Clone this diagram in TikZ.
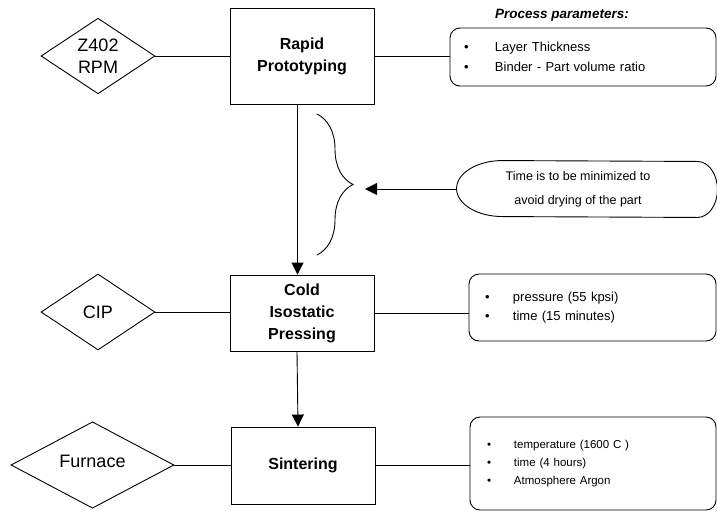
\documentclass[tikz,border=0pt]{standalone}
\usepackage{fontspec}
\setmainfont{Liberation Sans}
\usetikzlibrary{shapes.geometric,arrows.meta,decorations.pathreplacing}
\newcommand{\bul}[1]{\makebox[#1][l]{\textbullet}}

\begin{document}
\begin{tikzpicture}[x=1pt,y=-1pt,line width=0.9pt,
      proc/.style={draw,rectangle,minimum width=144pt,align=center,
        font=\bfseries\fontsize{16}{22}\selectfont},
      tool/.style={draw,diamond,inner sep=0pt,align=center,
        font=\fontsize{18}{22}\selectfont},
      params/.style={draw,rounded corners=10pt,align=left,inner ysep=0pt},
      flow/.style={-{Triangle[length=12pt,width=12pt]}}]
    \useasboundingbox (0,0) rectangle (717,512);
    % the three process steps, top to bottom
    \node[proc,minimum height=96pt] (rp) at (302,56) {Rapid\\Prototyping};
    \node[proc,minimum height=76pt] (cip) at (302,313) {Cold\\Isostatic\\Pressing};
    \node[proc,minimum height=77pt] (sint) at (303,465.5) {Sintering};
    % the machine used for each step
    \node[tool,minimum width=114pt,minimum height=75pt] (rpm) at (98,56) {Z402\\RPM};
    \node[tool,minimum width=114pt,minimum height=76pt] (press) at (98,312) {CIP};
    \node[tool,minimum width=163pt,minimum height=76pt] (furn) at (92.5,465) {\raisebox{8pt}{Furnace}};
    % process parameters of each step
    \node[font=\bfseries\itshape\fontsize{13.5}{16}\selectfont] (ptitle) at (562,15) {Process parameters:};
    \node[params,minimum height=58pt,text width=238pt,inner xsep=14pt,
      font=\fontsize{13}{20}\selectfont] (par1) at (583,57)
      {\bul{31pt}Layer Thickness\\\bul{31pt}Binder - Part volume ratio};
    \node[params,minimum height=67pt,text width=215pt,inner xsep=16pt,
      font=\fontsize{13}{19}\selectfont] (par2) at (592.5,307.5)
      {\bul{28pt}pressure (55 kpsi)\\\bul{28pt}time (15 minutes)};
    \node[params,minimum height=93pt,text width=212pt,inner xsep=17pt,
      font=\fontsize{11.5}{18}\selectfont] (par3) at (593,463.5)
      {\bul{27pt}temperature (1600 C )\\\bul{27pt}time (4 hours)\\\bul{27pt}Atmosphere Argon};
    % note on the time between printing and pressing
    \node[align=center,minimum width=242pt,minimum height=56pt,
      font=\fontsize{12.5}{24}\selectfont] (note) at (578,189)
      {Time is to be minimized to\\ avoid drying of the part};
    \draw ([xshift=46pt]note.north west) arc[start angle=90,end angle=270,x radius=46pt,y radius=28pt]
      -- ([xshift=-2pt]note.south east) arc[start angle=-90,end angle=90,x radius=20pt,y radius=28pt] -- cycle;
    \coordinate (btop) at (317,114);
    \coordinate (bbot) at (317,255);
    \coordinate (btip) at (365,189);
    \draw[decorate,decoration={brace,amplitude=36pt}] (btop) -- (bbot);
    \draw[flow] (note.west) -- (btip);
    % connections
    \draw (rpm.east) -- (rpm.east -| rp.west);
    \draw (press.east) -- (press.east -| cip.west);
    \draw (furn.east) -- (furn.east -| sint.west);
    \draw (rp.east) -- (rp.east -| par1.west);
    \draw (cip.east) -- (cip.east -| par2.west);
    \draw (sint.east) -- (sint.east -| par3.west);
    \draw[flow] ([xshift=-4.5pt]rp.south) -- ([xshift=-4.5pt]cip.north);
    \draw[flow] ([xshift=-5pt]cip.south) -- ([xshift=-5pt]sint.north);
  \end{tikzpicture}
\end{document}
